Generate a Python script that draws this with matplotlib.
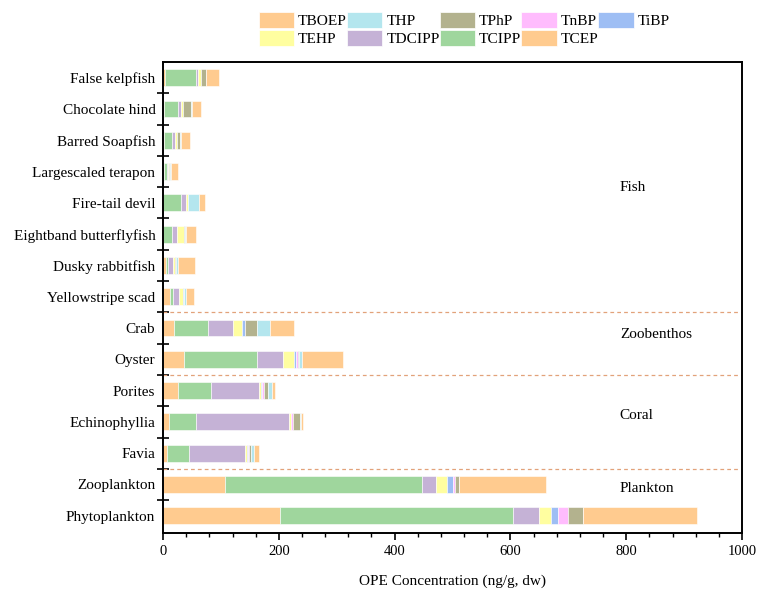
import matplotlib
matplotlib.use("Agg")
import matplotlib.pyplot as plt
from matplotlib.patches import Patch
import numpy as np

plt.rcParams['font.family'] = ['Liberation Serif', 'DejaVu Serif']

# Organisms, listed from the bottom of the chart to the top
organisms = ["Phytoplankton", "Zooplankton", "Favia", "Echinophyllia", "Porites",
             "Oyster", "Crab", "Yellowstripe scad", "Dusky rabbitfish",
             "Eightband butterflyfish", "Fire-tail devil", "Largescaled terapon",
             "Barred Soapfish", "Chocolate hind", "False kelpfish"]

# OPE concentrations (ng/g, dw), one list per compound, same order as organisms
TBOEP  = [202, 107, 7.5, 11, 25, 36, 19, 12, 5, 0.5, 0.5, 1, 1, 1.5, 3]
TCIPP  = [403, 340, 37.5, 46, 57, 127, 58, 5, 4, 15, 30, 6.5, 14, 25, 54]
TDCIPP = [44, 24, 97, 160, 83, 45, 44, 11, 8, 9, 9, 1, 5, 4, 3]
TEHP   = [21, 19, 3.5, 3.5, 4, 19, 15.5, 6, 3, 11.5, 3, 2, 4.5, 4.5, 5]
TiBP   = [13, 10, 1.5, 1, 2, 2, 4.5, 2, 1, 0, 0, 0, 0, 0, 0]
TnBP   = [16, 4, 2, 3, 4, 4, 0, 0, 0, 0, 0, 0, 0, 0, 0]
TPhP   = [26, 7, 3, 12, 6.5, 2, 22, 1, 2, 2, 1, 1.5, 4.5, 14, 9]
THP    = [0, 0, 4.5, 1.5, 6, 5, 22, 2, 3, 1.5, 18, 2, 1.5, 1, 1]
TCEP   = [197, 150, 9.5, 4, 6, 71, 42, 15, 29, 17, 11, 11, 15.5, 15, 22]

compounds = ["TBOEP", "TCIPP", "TDCIPP", "TEHP", "TiBP", "TnBP", "TPhP", "THP", "TCEP"]
series = [TBOEP, TCIPP, TDCIPP, TEHP, TiBP, TnBP, TPhP, THP, TCEP]
colors = {"TBOEP": "#FFCB8F", "TCIPP": "#9FD69D", "TDCIPP": "#C5B2D6",
          "TEHP": "#FFFEA0", "TiBP": "#9EBEF4", "TnBP": "#FFBCFD",
          "TPhP": "#B3B28E", "THP": "#B4E6EE", "TCEP": "#FFCB8F"}

groups = ["Fish", "Zoobenthos", "Coral", "Plankton"]
group_label_y = [10.48, 5.78, 3.2, 0.86]
group_bounds = [6.5, 4.5, 1.5]

fig = plt.figure(figsize=(7.59, 5.93), dpi=100)
ax = fig.add_axes([0.2148, 0.1012, 0.7628, 0.7942])

y = np.arange(len(organisms))
left = np.zeros(len(organisms))
for name, vals in zip(compounds, series):
    vals = np.asarray(vals, dtype=float)
    ax.barh(y, vals, left=left, height=0.54, color=colors[name],
            edgecolor="white", linewidth=0.4)
    left += vals

for b in group_bounds:
    ax.axhline(b, color="#E2A27A", linestyle=(0, (3, 2.5)), linewidth=0.9)

for g, gy in zip(groups, group_label_y):
    ax.text(789, gy, g, fontsize=11, va="center", ha="left")

ax.set_xlim(0, 1000)
ax.set_ylim(-0.55, 14.5)
ax.set_xticks(np.arange(0, 1001, 200))
ax.set_xticks(np.arange(0, 1001, 40), minor=True)
ax.tick_params(axis="x", which="major", direction="out", length=5, width=1.2, labelsize=10.5)
ax.tick_params(axis="x", which="minor", direction="out", length=3, width=1.0)

ax.set_yticks(y)
ax.set_yticklabels(organisms)
ax.set_yticks(np.arange(0.5, len(organisms) - 1, 1.0), minor=True)
ax.tick_params(axis="y", which="major", length=0, labelsize=11, pad=5.5)
ax.tick_params(axis="y", which="minor", direction="inout", length=8, width=1.2)

for s in ax.spines.values():
    s.set_linewidth(1.4)

ax.set_xlabel("OPE Concentration (ng/g, dw)", fontsize=11, labelpad=12)

# Legend laid out in two rows, filled column by column
legend_order = ["TBOEP", "TEHP", "THP", "TDCIPP", "TPhP", "TCIPP", "TnBP", "TCEP", "TiBP"]
handles = [Patch(facecolor=colors[n], edgecolor="white", linewidth=0.5, label=n)
           for n in legend_order]
fig.legend(handles=handles, loc="upper left", bbox_to_anchor=(0.341, 0.980),
           ncol=5, frameon=False, fontsize=11.1, borderpad=0, borderaxespad=0,
           handlelength=2.3, handleheight=1.2, handletextpad=0.25,
           labelspacing=0.12, columnspacing=0.0)

fig.savefig("out.png", dpi=100)
